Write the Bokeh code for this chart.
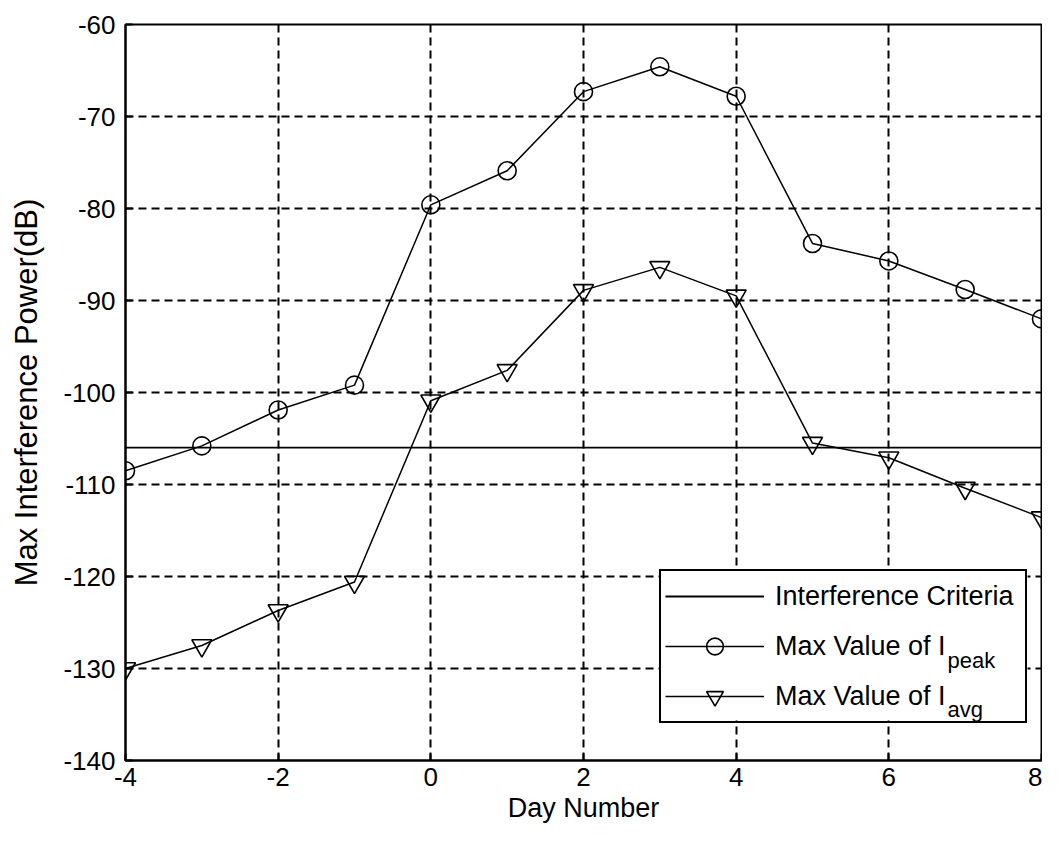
from bokeh.plotting import figure
from bokeh.models import Legend, LegendItem, Label, FixedTicker, BoxAnnotation
from bokeh.embed import file_html
from bokeh.resources import INLINE

# ---- data ----
days = [-4, -3, -2, -1, 0, 1, 2, 3, 4, 5, 6, 7, 8]
i_peak = [-108.5, -105.8, -101.9, -99.2, -79.6, -75.9, -67.3, -64.6, -67.8,
          -83.8, -85.7, -88.8, -92.0]
i_avg = [-130.0, -127.5, -123.7, -120.6, -100.9, -97.6, -88.9, -86.4, -89.5,
         -105.5, -107.1, -110.4, -113.6]
criteria_x = [-4, 8]
criteria_y = [-106, -106]
x_ticks = [-4, -2, 0, 2, 4, 6, 8]
y_ticks = [-140, -130, -120, -110, -100, -90, -80, -70, -60]

FONT = "Liberation Sans"

p = figure(width=1042, height=829, x_range=(-4, 8), y_range=(-140, -60),
           output_backend="svg", toolbar_location=None,
           min_border_left=125, min_border_right=1, min_border_top=24,
           min_border_bottom=69)
p.background_fill_color = "white"
p.border_fill_color = "white"
p.outline_line_color = "black"
p.outline_line_width = 2
p.outline_line_alpha = 1

# axes
p.xaxis.ticker = FixedTicker(ticks=x_ticks)
p.yaxis.ticker = FixedTicker(ticks=y_ticks)
p.xaxis.major_label_overrides = {t: str(t) for t in x_ticks}
p.yaxis.major_label_overrides = {t: str(t) for t in y_ticks}
p.xgrid.ticker = FixedTicker(ticks=x_ticks)
p.ygrid.ticker = FixedTicker(ticks=y_ticks)
for ax in (p.xaxis, p.yaxis):
    ax.axis_line_color = "black"
    ax.axis_line_width = 2
    ax.major_tick_line_color = "black"
    ax.major_tick_line_width = 2
    ax.major_tick_in = 7
    ax.major_tick_out = 0
    ax.minor_tick_line_color = None
    ax.major_label_text_font = FONT
    ax.major_label_text_font_size = "26px"
    ax.major_label_text_color = "black"
    ax.axis_label_text_font = FONT
    ax.axis_label_text_font_style = "normal"
    ax.axis_label_text_color = "black"
p.xaxis.major_label_standoff = 7
p.yaxis.major_label_standoff = 10
p.xaxis.axis_label = "Day Number"
p.xaxis.axis_label_text_font_size = "27px"
p.xaxis.axis_label_standoff = 4
p.yaxis.axis_label = "Max Interference Power(dB)"
p.yaxis.axis_label_text_font_size = "31px"
p.yaxis.axis_label_standoff = 16

for g in (p.xgrid, p.ygrid):
    g.grid_line_color = "black"
    g.grid_line_alpha = 1
    g.grid_line_width = 2
    g.grid_line_dash = "8 5"

# data
crit = p.line(criteria_x, criteria_y, line_color="black", line_width=1.8)
peak_line = p.line(days, i_peak, line_color="black", line_width=1.5)
peak_pts = p.scatter(days, i_peak, marker="circle", size=18, line_color="black",
                     line_width=1.6, fill_alpha=0)
avg_line = p.line(days, i_avg, line_color="black", line_width=1.5)
avg_pts = p.scatter(days, i_avg, marker="inverted_triangle", size=20,
                    line_color="black", line_width=1.6, fill_alpha=0)

# white backing for the legend (hides the grid), with subscripts drawn on it;
# the legend itself is transparent so the subscripts show through
backing = BoxAnnotation(left=534, right=902, bottom=40, top=192,
                        left_units="screen", right_units="screen",
                        bottom_units="screen", top_units="screen",
                        fill_color="white", fill_alpha=1, line_color=None)
p.add_layout(backing)

sub_peak = Label(x=822, y=100, x_units="screen", y_units="screen", text="peak",
                 text_font=FONT, text_font_size="22px", text_color="black",
                 text_baseline="alphabetic")
sub_avg = Label(x=822, y=51, x_units="screen", y_units="screen", text="avg",
                text_font=FONT, text_font_size="22px", text_color="black",
                text_baseline="alphabetic")
p.add_layout(sub_peak)
p.add_layout(sub_avg)

legend = Legend(items=[
    LegendItem(label="Interference Criteria", renderers=[crit]),
    LegendItem(label="Max Value of I", renderers=[peak_line, peak_pts]),
    LegendItem(label="Max Value of I", renderers=[avg_line, avg_pts]),
], location=(534, 37))
legend.margin = 0
legend.padding = 4
legend.spacing = 8
legend.label_height = 38
legend.glyph_height = 42
legend.glyph_width = 99
legend.label_standoff = 11
legend.label_width = 246
legend.label_text_font = FONT
legend.label_text_font_size = "27px"
legend.label_text_color = "black"
legend.border_line_color = "black"
legend.border_line_alpha = 1
legend.border_line_width = 2
legend.background_fill_alpha = 0
p.add_layout(legend)

open("out.html", "w").write(file_html(p, INLINE))
